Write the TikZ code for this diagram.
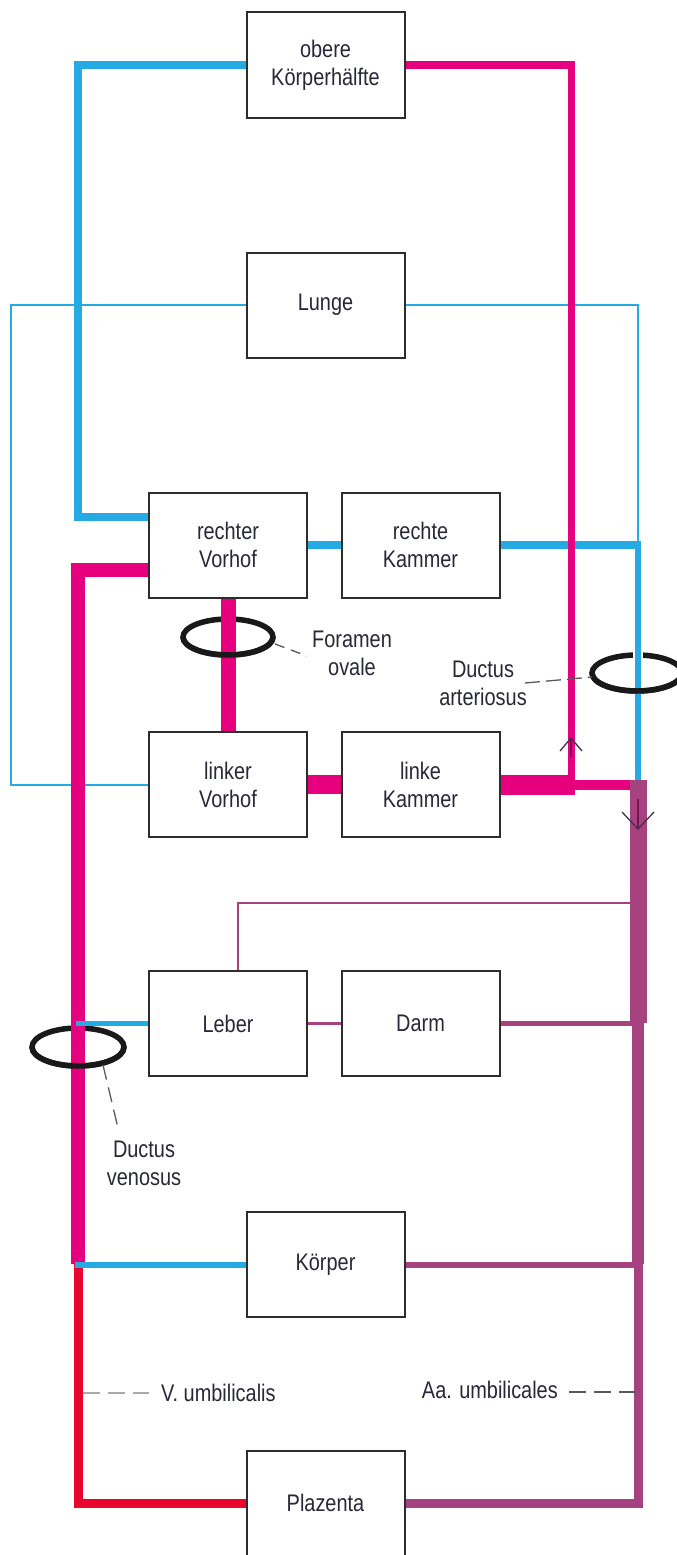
\documentclass[tikz,border=0pt]{standalone}
\usepackage{fontspec}
\setmainfont{Liberation Sans}[FakeStretch=0.83]
\usetikzlibrary{calc}
\pgfdeclarelayer{bg}
\pgfsetlayers{bg,main}
\definecolor{vblue}{RGB}{38,170,228}
\definecolor{vmag}{RGB}{230,0,126}
\definecolor{vpur}{RGB}{166,66,128}
\definecolor{vred}{RGB}{232,6,44}
\definecolor{boxline}{RGB}{45,45,45}
\definecolor{txt}{RGB}{40,40,55}
\definecolor{lead}{RGB}{90,90,90}
\definecolor{leadlight}{RGB}{170,170,170}
\definecolor{chevc}{RGB}{70,50,70}
\definecolor{stemm}{RGB}{120,20,85}
\begin{document}
\begin{tikzpicture}[x=1pt,y=-1pt,
  organ/.style={draw=boxline, line width=2pt, fill=white, minimum width=158pt, minimum height=105pt, inner sep=0pt, align=center, text=txt, font=\fontsize{24}{28}\selectfont},
  lbl/.style={inner sep=0pt, align=center, text=txt, font=\fontsize{24}{28}\selectfont},
  ring/.style={draw=black!90, line width=5.5pt},
  leader/.style={draw=lead, line width=1.3pt},
  chev/.style={draw=chevc, line width=1.3pt},
  chevstem/.style={draw=stemm, line width=1.6pt}
]
\useasboundingbox (0,0) rectangle (677,1555);

% organ boxes
\node[organ] (obere) at (325.5,65) {obere\\Körperhälfte};
\node[organ] (lunge) at (325.5,305) {Lunge};
\node[organ] (rv) at (228,545) {rechter\\Vorhof};
\node[organ] (rk) at (420.5,545) {rechte\\Kammer};
\node[organ] (lv) at (228,784.5) {linker\\Vorhof};
\node[organ] (lk) at (420.5,784.5) {linke\\Kammer};
\node[organ] (leber) at (228,1023.5) {Leber};
\node[organ] (darm) at (420.5,1023.5) {Darm};
\node[organ] (koerper) at (325.5,1264.5) {Körper};
\node[organ] (plaz) at (325.5,1503) {Plazenta};

\begin{pgfonlayer}{bg}
\fill[white] (0,0) rectangle (677,1555);
% lung circuit
\draw[vblue, line width=2pt] (lunge.west) -| (11,784.5) -- (lv.west);
\draw[vblue, line width=2pt] (lunge.east) -| (638,545);
% upper body return
\draw[vblue, line width=8pt] (obere.west) -| (78,517) -- ([yshift=28pt]rv.west);
\draw[vblue, line width=8pt] (rv.east) -- (rk.west);
% ductus arteriosus
\draw[ring] (637,673) ellipse [x radius=45pt, y radius=18pt];
\draw[white, line width=10pt] (638,649) -- (638,661);
\draw[vblue, line width=8pt] (rk.east) -- (641,545);
\draw[vblue, line width=6pt] (638,541) -- (638,781);
\draw[ring] (637,673) ++(-45pt,0) arc[start angle=180, end angle=360, x radius=45pt, y radius=18pt];
% aorta
\draw[vmag, line width=8pt] (obere.east) -- (575,65);
\draw[vmag, line width=7pt] (571,61) -- (571,783);
\draw[vmag, line width=20pt] (lk.east) -- ++(74,0);
\draw[vmag, line width=10pt] (lk.east) ++(70,0) -- ++(71,0);
% descending (mixed)
\draw[vpur, line width=17pt] (638,780) -- (638,1023);
\draw[vpur, line width=12pt] (638,1023) -- (638,1264);
\draw[vpur, line width=9pt] (plaz.east) -| (638,1262);
\draw[vpur, line width=2pt] ([xshift=10pt]leber.north) |- (631,903);
\draw[vpur, line width=3pt] (leber.east) -- (darm.west);
\draw[vpur, line width=5pt] (darm.east) -- (632,1023.5);
\draw[vpur, line width=6pt] (koerper.east) -- (634,1264.5);
% ductus venosus ring + vena cava
\draw[ring] (78,1047) ellipse [x radius=46pt, y radius=19pt];
\draw[vmag, line width=14pt] ([yshift=-25pt]rv.west) -| (78,1264);
\draw[ring] (78,1047) ++(-46pt,0) arc[start angle=180, end angle=360, x radius=46pt, y radius=19pt];
\draw[vblue, line width=5pt] (leber.west) -- (76,1023.5);
% foramen ovale
\draw[ring] (228,637) ellipse [x radius=45pt, y radius=18pt];
\draw[vmag, line width=15pt] (rv.south) -- (lv.north);
\draw[ring] (228,637) ++(-45pt,0) arc[start angle=180, end angle=360, x radius=45pt, y radius=18pt];
\draw[vmag, line width=19pt] (lv.east) -- (lk.west);
% umbilical
\draw[vred, line width=9pt] (78,1262) |- (plaz.west);
\draw[vblue, line width=6pt] (koerper.west) -- (75,1264.5);
\end{pgfonlayer}

% labels
\node[lbl] (fo) at (352,653) {Foramen\\ovale};
\node[lbl] (da) at (483,683) {Ductus\\arteriosus};
\node[lbl] (dv) at (144,1163) {Ductus\\venosus};
\node[lbl, anchor=base west] (vu) at (161,1401) {V. umbilicalis};
\node[lbl, anchor=base east] (au) at (558,1398) {Aa. umbilicales};

% leader lines
\coordinate (foA) at (275,644); \coordinate (foB) at (307,656);
\draw[leader, dash pattern=on 10pt off 7pt] (foA) -- (foB);
\coordinate (daA) at (525,683); \coordinate (daB) at (592,677);
\draw[leader, dash pattern=on 15pt off 6pt] (daA) -- (daB);
\coordinate (dvA) at (103,1065); \coordinate (dvB) at (118,1128);
\draw[leader, dash pattern=on 15pt off 8pt] (dvA) -- (dvB);
\coordinate (vuA) at (83,1393); \coordinate (vuB) at (149,1393);
\draw[draw=leadlight, line width=2pt, dash pattern=on 17pt off 8pt] (vuA) -- (vuB);
\coordinate (auA) at (569,1392); \coordinate (auB) at (636,1392);
\draw[leader, line width=1.6pt, dash pattern=on 17pt off 8pt] (auA) -- (auB);

% flow arrows
\draw[chevstem] (571,738) -- (571,757);
\draw[chev] (560,751) -- (571,738) -- (582,751);
\draw[chevstem] (638,799) -- (638,829);
\draw[chev] (622,812) -- (638,829) -- (654,812);
\end{tikzpicture}
\end{document}
